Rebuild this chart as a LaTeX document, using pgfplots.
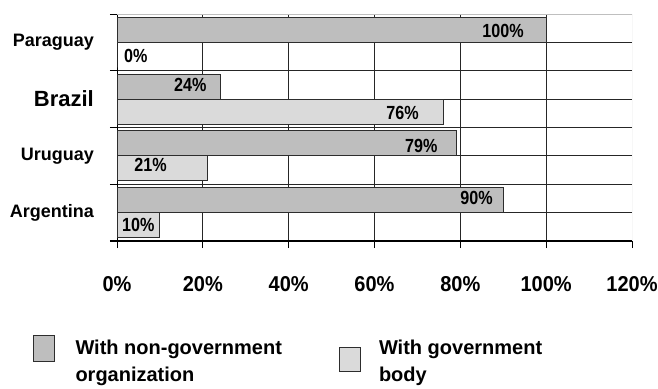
\documentclass[border=0pt]{standalone}
\usepackage{fontspec}
\setmainfont{Liberation Sans}
\newfontfamily\narrowbold{Liberation Sans Bold}[FakeStretch=0.85]
\newfontfamily\tickbold{Liberation Sans Bold}[FakeStretch=0.93]
\usepackage{pgfplots}
\usepackage{pgfplotstable}
\pgfplotsset{compat=1.18}

\definecolor{ngov}{RGB}{190,190,190}
\definecolor{gov}{RGB}{218,218,218}
\definecolor{edge}{RGB}{45,45,45}

% y: category position (0 = Argentina ... 3 = Paraguay), x: share in percent,
% dx/dy: fine placement of the value label at the bar end
\pgfplotstableread{
y x dx dy
0 90 -10 1.7
1 79 -18 -3
2 24 -13 1.6
3 100 -22 -1
}\nongov
\pgfplotstableread{
y x dx dy
0 10 -5 0
1 21 -40 3
2 76 -24 -1
3 0 31 -1
}\govbody

\begin{document}
\begin{tikzpicture}[x=1pt,y=1pt]
\path[use as bounding box] (0,0) rectangle (658,388);
\begin{axis}[
  at={(117pt,147pt)}, anchor=south west,
  scale only axis, width=515pt, height=227pt,
  xbar, xmin=0, xmax=120, ymin=-0.5, ymax=3.5,
  bar width=0.44,
  axis x line*=bottom, axis y line*=left,
  axis line style={black, line width=1pt},
  xtick={0,20,...,100},
  xticklabels={0\%,20\%,40\%,60\%,80\%,100\%},
  extra x ticks={120}, extra x tick labels={120\%},
  extra x tick style={grid=none},
  xmajorgrids,
  ytick={-0.5,0.5,1.5,2.5}, yticklabels={{},{},{},{}}, ymajorgrids,
  minor ytick={3.5},
  extra y ticks={0,1,2,3},
  extra y tick labels={Argentina,Uruguay,{\fontsize{22}{22}\selectfont Brazil},Paraguay},
  extra y tick style={grid=major, major tick length=0pt},
  tick align=outside,
  major tick length=7pt, minor tick length=7pt,
  every tick/.style={black, line width=1pt},
  major grid style={black!85, line width=1pt},
  xticklabel style={font=\tickbold\fontsize{21.5}{21.5}\selectfont, inner sep=0pt, yshift=-28pt},
  yticklabel style={font=\fontsize{18}{18}\selectfont\bfseries, inner sep=0pt, xshift=-23pt},
  point meta=x,
  nodes near coords={\pgfmathprintnumber[assume math mode=true]{\pgfplotspointmeta}\%},
  nodes near coords align={anchor=east},
  every node near coord/.append style={font=\narrowbold\fontsize{19}{19}\selectfont,
    anchor=east, inner sep=0pt, xshift=\dx pt, yshift=\dy pt, black},
  visualization depends on={\thisrow{dx} \as \dx},
  visualization depends on={\thisrow{dy} \as \dy},
  legend columns=2,
  legend cell align=left,
  legend style={at={(-0.1631,-0.416)}, anchor=north west, draw=none, fill=none,
    inner sep=0pt, outer sep=0pt, column sep=0pt, row sep=0pt,
    font=\fontsize{20}{27}\selectfont\bfseries,
    nodes={inner sep=0pt, outer sep=0pt}},
]
\addplot[fill=ngov, draw=edge, line width=1pt, bar shift=0.22,
  legend image code/.code={%
    \path[draw=none, fill=none] (0pt,0pt) rectangle (42pt,0pt);
    \draw[fill=ngov, draw=edge, line width=1pt] (0pt,-14pt) rectangle (21pt,12pt);}]
  table[x=x, y=y] {\nongov};
\addlegendentry{\parbox[t]{263pt}{With non-government\\organization}}
\addplot[fill=gov, draw=edge, line width=1pt, bar shift=-0.22,
  legend image code/.code={%
    \path[draw=none, fill=none] (0pt,0pt) rectangle (40pt,0pt);
    \draw[fill=gov, draw=edge, line width=1pt] (0pt,-24pt) rectangle (21pt,0pt);}]
  table[x=x, y=y] {\govbody};
\addlegendentry{\parbox[t]{200pt}{With government\\body}}
% light frame on the top and right of the plot area
\draw[black!25, line width=1pt] (rel axis cs:0,1) -- (rel axis cs:1,1) -- (rel axis cs:1,0);
\end{axis}
\end{tikzpicture}
\end{document}
